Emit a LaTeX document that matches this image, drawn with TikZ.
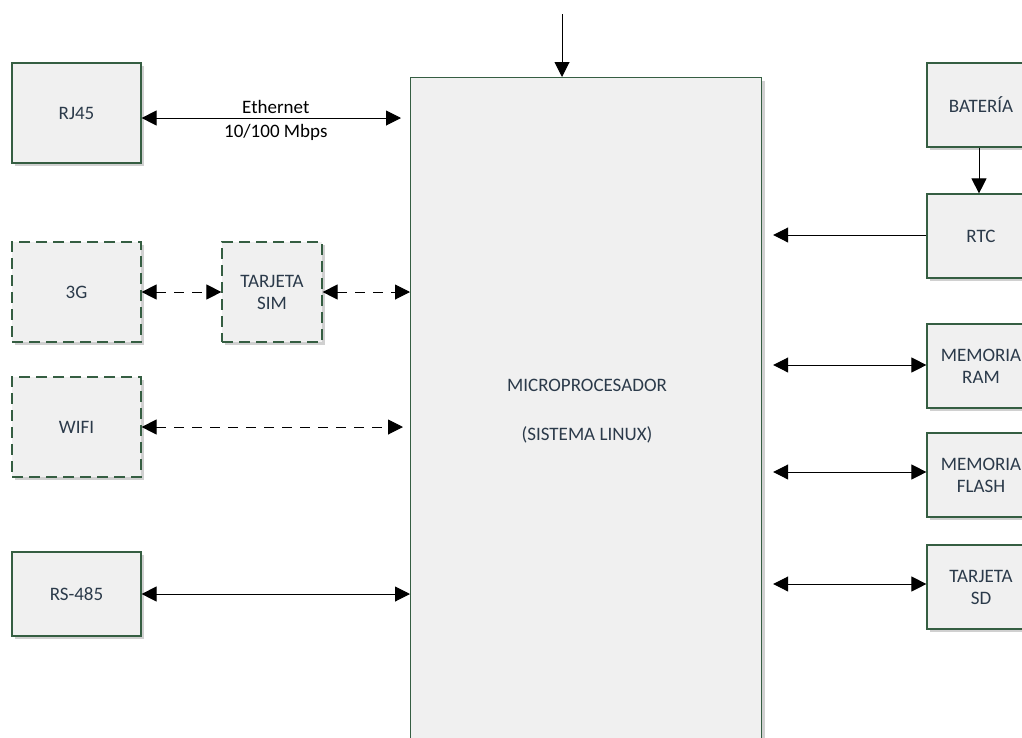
\documentclass[tikz,border=0pt]{standalone}
\usepackage{fontspec}
\setmainfont{Carlito}
\usetikzlibrary{arrows.meta,shadows,calc}
\definecolor{boxfill}{HTML}{F0F0F0}
\definecolor{boxline}{HTML}{355E42}
\definecolor{txt}{HTML}{2B3A4A}
\tikzset{
  blk/.style={draw=boxline, line width=1.2pt, fill=boxfill, text=txt, align=center,
    font=\fontsize{19}{22}\selectfont, inner sep=0pt,
    drop shadow={shadow xshift=3pt, shadow yshift=-3pt, fill=black!30, opacity=0.6}},
  dblk/.style={blk, dash pattern=on 11pt off 6pt},
  conn/.style={line width=1pt, {Triangle[length=15pt,width=15pt]}-{Triangle[length=15pt,width=15pt]}},
  oneway/.style={line width=1pt, -{Triangle[length=15pt,width=15pt]}},
  dconn/.style={conn, dash pattern=on 10pt off 8pt},
  lbl/.style={text=black, font=\fontsize{19}{22}\selectfont, inner sep=0pt}
}
\begin{document}
\begin{tikzpicture}[x=1pt,y=-1pt]
\useasboundingbox (0,0) rectangle (1022,737);
\clip (0,0) rectangle (1022,737);
\fill[white] (0,0) rectangle (1022,737);
% main block
\node[blk, minimum width=351pt, minimum height=690pt, anchor=north west] (main) at (410,77) {};
\node[lbl, text=txt] (mt1) at (587,385) {MICROPROCESADOR};
\node[lbl, text=txt] (mt2) at (587,435) {(SISTEMA LINUX)};
\coordinate (topin) at (562,14);
\draw[oneway] (topin) -- (topin |- main.north);
% left side
\node[blk, minimum width=129pt, minimum height=100pt] (rj) at (76.5,113) {RJ45};
\node[dblk, minimum width=129pt, minimum height=100pt] (g3) at (76.5,292) {3G};
\node[dblk, minimum width=100pt, minimum height=100pt] (sim) at (272,292) {TARJETA\\SIM};
\node[dblk, minimum width=129pt, minimum height=100pt] (wifi) at (76.5,427) {WIFI};
\node[blk, minimum width=129pt, minimum height=84pt] (rs) at (76.5,594) {RS-485};
\draw[conn, shorten >=9pt] ([yshift=-5pt]rj.east) -- ([yshift=-5pt]rj.east -| main.west)
  node[lbl, midway, above=4pt] (eth1) {Ethernet}
  node[lbl, midway, below=6pt] (eth2) {10/100 Mbps};
\draw[dconn] (g3.east) -- (sim.west);
\draw[dconn] (sim.east) -- (sim.east -| main.west);
\draw[dconn, shorten >=7pt] (wifi.east) -- (wifi.east -| main.west);
\draw[conn] (rs.east) -- (rs.east -| main.west);
% right side
\node[blk, minimum width=108pt, minimum height=84pt] (bat) at (981,105) {BATERÍA};
\node[blk, minimum width=108pt, minimum height=84pt] (rtc) at (981,236) {RTC};
\node[blk, minimum width=108pt, minimum height=84pt] (ram) at (981,366) {MEMORIA\\RAM};
\node[blk, minimum width=108pt, minimum height=84pt] (flash) at (981,475) {MEMORIA\\FLASH};
\node[blk, minimum width=108pt, minimum height=84pt] (sd) at (981,587) {TARJETA\\SD};
\draw[oneway] ([xshift=-2pt]bat.south) -- ([xshift=-2pt]rtc.north);
\draw[oneway, shorten >=11pt] ([yshift=1pt]rtc.west) -- ([yshift=1pt]rtc.west -| main.east);
\draw[conn, shorten <=11pt] ([yshift=1pt]ram.west -| main.east) -- ([yshift=1pt]ram.west);
\draw[conn, shorten <=11pt] ([yshift=3pt]flash.west -| main.east) -- ([yshift=3pt]flash.west);
\draw[conn, shorten <=11pt] ([yshift=3pt]sd.west -| main.east) -- ([yshift=3pt]sd.west);
\end{tikzpicture}
\end{document}
